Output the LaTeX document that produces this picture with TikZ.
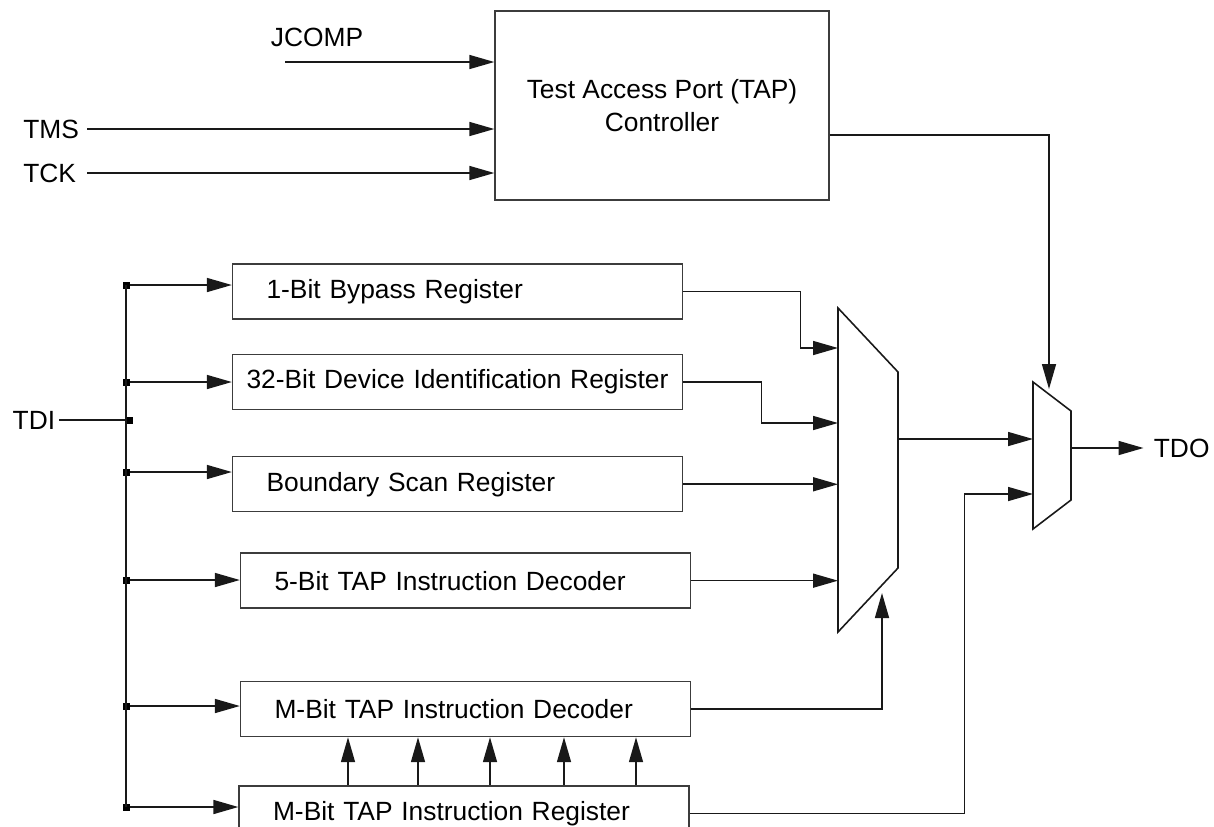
\documentclass[tikz,border=0pt]{standalone}
\usepackage{fontspec}
\setmainfont{Liberation Sans}
\usetikzlibrary{arrows.meta,positioning,calc}
\definecolor{wiredark}{RGB}{25,25,25}
\definecolor{boxedge}{RGB}{60,60,60}
\newcommand{\jtagfont}{\fontsize{15pt}{18.8pt}\selectfont}
\tikzset{
  tapbox/.style={rectangle,draw=boxedge,line width=0.8pt,minimum width=6.68cm,
    minimum height=3.78cm,align=center,font=\jtagfont},
  regbox/.style={rectangle,draw=boxedge,line width=0.8pt,minimum height=1.1cm,
    text width=7.64cm,inner xsep=0.68cm,align=left,font=\jtagfont},
  pinlabel/.style={inner sep=2pt,font=\jtagfont},
  junc/.style={rectangle,fill=black,minimum size=0.14cm,inner sep=0pt},
  sigline/.style={line width=0.9pt,color=wiredark},
  sigarrow/.style={-{Triangle[length=0.5cm,width=0.28cm]},line width=0.9pt,
    color=wiredark},
  muxbody/.style={draw=wiredark,line width=0.9pt},
}

\begin{document}
\begin{tikzpicture}[x=0.02cm,y=-0.02cm]
\useasboundingbox (0,0) rectangle (1214,826);

%% ── TAP controller ───────────────────────────────────────────────────────
\node[tapbox] (tap) at (662,105.5) {Test Access Port (TAP)\\Controller};
\node[pinlabel] (jcomp) at (317,37) {JCOMP};
\coordinate (jcin) at (285,62);
\node[pinlabel,anchor=west,text width=1.2cm,align=left] (tms) at (19.5,129) {TMS};
\node[pinlabel,anchor=west,text width=1.2cm,align=left] (tck) at (19.5,173) {TCK};

\draw[sigarrow] (jcin) -- (jcin -| tap.west);
\draw[sigarrow] (tms.east) -- (tms.east -| tap.west);
\draw[sigarrow] (tck.east) -- (tck.east -| tap.west);

%% ── Data registers ───────────────────────────────────────────────────────
\node[regbox] (byp) at (457.5,291.5) {1-Bit Bypass Register};
\node[regbox, below=0.68cm of byp, text width=8.6cm, inner xsep=0.2cm,
      align=center] (idr) {32-Bit Device Identification Register};
\node[regbox, below=0.92cm of idr] (bsr) {Boundary Scan Register};
\node[regbox, below=0.8cm of bsr, xshift=0.16cm] (dec5) {5-Bit TAP Instruction Decoder};
\node[regbox, below=1.44cm of dec5] (decm) {M-Bit TAP Instruction Decoder};
\node[regbox, below=0.96cm of decm, xshift=-0.03cm] (irm) {M-Bit TAP Instruction Register};

%% ── TDI fan-out ──────────────────────────────────────────────────────────
\node[pinlabel,anchor=east] (tdi) at (59,420) {TDI};
\node[junc] (dtdi) at (129,420) {};
\node[junc] (d1) at (126,285) {};
\node[junc] (d2) at (126,382) {};
\node[junc] (d3) at (126,472) {};
\node[junc] (d4) at (126,580) {};
\node[junc] (d5) at (126,706) {};
\node[junc] (d6) at (126,807) {};

\draw[sigline] (tdi) -- (dtdi);
\draw[sigline] (d1.center) -- (d6.center);
\draw[sigarrow] (d1) -- (d1 -| byp.west);
\draw[sigarrow] (d2) -- (d2 -| idr.west);
\draw[sigarrow] (d3) -- (d3 -| bsr.west);
\draw[sigarrow] (d4) -- (d4 -| dec5.west);
\draw[sigarrow] (d5) -- (d5 -| decm.west);
\draw[sigarrow] (d6) -- (d6 -| irm.west);

% instruction register -> decoder
\foreach \xx in {348,418,490,564,636}
  \draw[sigarrow] (irm.north -| \xx,0) -- (decm.south -| \xx,0);

%% ── Multiplexers ─────────────────────────────────────────────────────────
\draw[muxbody] (838,308) coordinate (m1tl) -- (898,372) -- (898,568)
  -- (838,632) -- cycle;
\coordinate (m1in1) at (838,348);
\coordinate (m1in2) at (838,423);
\coordinate (m1sel) at (882,593);
\coordinate (m1out) at (898,439);

\draw[muxbody] (1033,382) coordinate (m2tl) -- (1071,411) -- (1071,500)
  -- (1033,529) -- cycle;
\coordinate (m2in2) at (1033,494);
\coordinate (m2sel) at (1049,389);
\coordinate (m2out) at (1071,448);
\node[pinlabel,anchor=west] (tdo) at (1150,448) {TDO};

%% ── Connections ──────────────────────────────────────────────────────────
\draw[sigarrow] (byp.east) -- ++(117.5,0) |- (m1in1);
\draw[sigarrow] (idr.east) -- ++(78.5,0) |- (m1in2);
\draw[sigarrow] (bsr.east) -- (bsr.east -| m1tl);
\draw[sigarrow] (dec5.east) -- (dec5.east -| m1tl);
\draw[sigarrow] (decm.east) -| (m1sel);
\draw[sigarrow] (m1out) -- (m1out -| m2tl);
\draw[sigarrow] (irm.east) -- ++(275,0) |- (m2in2);
\draw[sigarrow] ([yshift=-0.59cm]tap.east) -| (m2sel);
\draw[sigarrow,shorten >=0.13cm] (m2out) -- (tdo);

\end{tikzpicture}
\end{document}
